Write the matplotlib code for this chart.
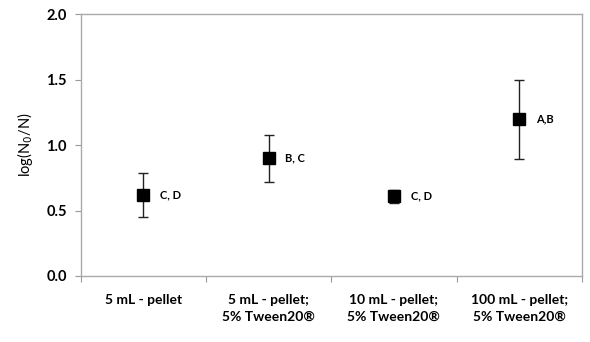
import matplotlib
matplotlib.use("Agg")
import matplotlib.pyplot as plt
from matplotlib.ticker import FixedLocator, NullFormatter

categories = ["5 mL - pellet", "5 mL - pellet;\n5% Tween20\u00ae",
              "10 mL - pellet;\n5% Tween20\u00ae", "100 mL - pellet;\n5% Tween20\u00ae"]
means = [0.62, 0.90, 0.61, 1.20]
err_low = [0.17, 0.18, 0.05, 0.31]
err_high = [0.17, 0.18, 0.05, 0.30]
letters = ["C, D", "B, C", "C, D", "A,B"]
yticks = [0.0, 0.5, 1.0, 1.5, 2.0]

plt.rcParams["font.family"] = ["Lato", "DejaVu Sans"]

fig = plt.figure(figsize=(5.9, 3.42), dpi=100)
ax = fig.add_axes([0.137, 0.193, 0.849, 0.766])

x = list(range(len(categories)))
ax.errorbar(x, means, yerr=[err_low, err_high], fmt="s", color="black",
            ecolor="#222222", elinewidth=1.0, capsize=3.5, capthick=1.0,
            markersize=8)

for xi, m, lab in zip(x, means, letters):
    ax.annotate(lab, (xi, m), xytext=(12, 0), textcoords="offset points",
                fontsize=8, fontweight="bold", va="center", ha="left")

ax.set_xlim(-0.5, len(categories) - 0.5)
ax.set_ylim(0, 2.0)
ax.set_yticks(yticks)
ax.set_yticklabels([f"{v:.1f}" for v in yticks], fontsize=10.5, fontweight="bold")
ax.set_ylabel("log(N$_0$/N)", fontsize=10.5, labelpad=8)

ax.xaxis.set_major_locator(FixedLocator([i - 0.5 for i in range(len(categories) + 1)]))
ax.xaxis.set_major_formatter(NullFormatter())
ax.xaxis.set_minor_locator(FixedLocator(x))
ax.set_xticks(x, minor=True)
ax.set_xticklabels(categories, minor=True, fontsize=10, fontweight="bold",
                   linespacing=1.5)
ax.tick_params(axis="x", which="minor", length=0, pad=13)
ax.tick_params(axis="x", which="major", length=4, color="#999999")
ax.tick_params(axis="y", length=4, color="#999999", pad=6)

for side in ["left", "bottom", "right", "top"]:
    ax.spines[side].set_color("#aaaaaa")
    ax.spines[side].set_linewidth(1.0)

fig.savefig("out.png", dpi=100)
